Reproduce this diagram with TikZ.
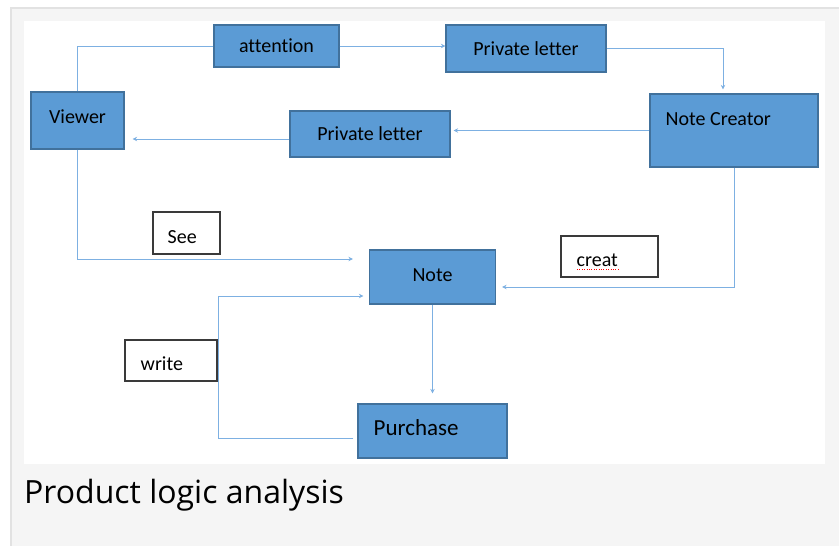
\documentclass[tikz,border=0pt]{standalone}
\usepackage{fontspec}
\setmainfont{Carlito}[Ligatures=NoCommon]
\newfontfamily\osans{Open Sans}
\usetikzlibrary{calc,arrows.meta}
\definecolor{bfill}{HTML}{5B9BD5}
\definecolor{bbord}{HTML}{41719C}
\definecolor{cline}{HTML}{7DB0E2}
\definecolor{panel}{HTML}{F5F5F5}
\definecolor{pborder}{HTML}{E2E2E2}
\definecolor{lbord}{HTML}{3A3A3A}
\tikzset{
  blk/.style={draw=bbord, fill=bfill, line width=1.2pt, inner sep=0pt,
    font=\fontsize{20}{24}\selectfont, text=black},
  lbl/.style={draw=lbord, fill=white, line width=1.1pt, inner sep=0pt},
  txt/.style={inner sep=0pt, anchor=west, font=\fontsize{20}{24}\selectfont, text=black},
  con/.style={draw=cline, line width=1pt},
  arr/.style={con, -{Stealth[length=4.5pt,width=4.5pt]}},
}
\begin{document}
\begin{tikzpicture}[x=1pt,y=-1pt]
\useasboundingbox (0,0) rectangle (839,546);
% page panel
\fill[white] (0,0) rectangle (839,546);
\fill[pborder] (10,7) rectangle (839,546);
\fill[panel] (12,9) rectangle (839,546);
\fill[white] (24,21) rectangle (825,464);

% blue boxes
\node[blk, minimum width=125pt, minimum height=42pt] (att) at (276.5,46) {attention};
\node[blk, minimum width=160pt, minimum height=47pt] (pl1) at (526,48.5) {Private letter};
\node[blk, minimum width=93pt, minimum height=57pt] (viewer) at (77.5,120.5) {};
\node[txt, anchor=center] (viewert) at (77.5,117) {Viewer};
\node[blk, minimum width=160pt, minimum height=46pt] (pl2) at (370,134) {Private letter};
\node[blk, minimum width=168pt, minimum height=73pt] (nc) at (734,130.5) {};
\node[txt] (nct) at (665.5,119) {Note Creator};
\node[blk, minimum width=126pt, minimum height=54pt] (note) at (432.5,277) {};
\node[txt, anchor=center] (notet) at (432.5,275) {Note};
\node[blk, minimum width=149pt, minimum height=54pt] (purch) at (432.5,431) {};
\node[txt, font=\fontsize{23}{27}\selectfont] (purcht) at (373.5,428) {Purchase};

% label boxes
\node[lbl, minimum width=67pt, minimum height=42pt] (see) at (186.5,233) {};
\node[txt] (seet) at (167.5,237) {See};
\node[lbl, minimum width=97pt, minimum height=41pt] (creat) at (609.5,256.5) {};
\node[txt] (creatt) at (576.5,260) {creat};
\draw[red, line width=0.8pt, dash pattern=on 0.8pt off 1.6pt] (creatt.south west) ++(0.5,3) -- ++(42,0);
\node[lbl, minimum width=92pt, minimum height=41pt] (write) at (171,360.5) {};
\node[txt] (writet) at (140.5,364) {write};

% title
\node[inner sep=0pt, anchor=base west, font=\osans\fontsize{32}{38}\selectfont] (title) at (24,503) {Product logic analysis};

% connectors
\draw[con] (viewer.north) |- (att.west);
\draw[arr] (att.east) -- (att.east -| pl1.west);
\draw[arr] (pl1.east) -| ([xshift=-11pt,yshift=4pt]nc.north);
\draw[arr] (nc.west) -- ($(pl2.east|-nc.west)+(3,0)$);
\draw[arr] ($(pl2.west)+(0,5)$) -- ($(viewer.east|-pl2.west)+(8,5)$);
\draw[arr] (viewer.south) |- ($(note.west)+(-16,-18)$);
\draw[arr] (nc.south) |- ($(note.east)+(6,10)$);
\draw[arr] (note.south) -- ($(purch.north)+(0,-10)$);
\draw[arr] ($(purch.west)+(-4,7)$) -| ($(write.east|-note.west)+(1,19)$) -- ($(note.west)+(-5.5,19)$);
\end{tikzpicture}
\end{document}
